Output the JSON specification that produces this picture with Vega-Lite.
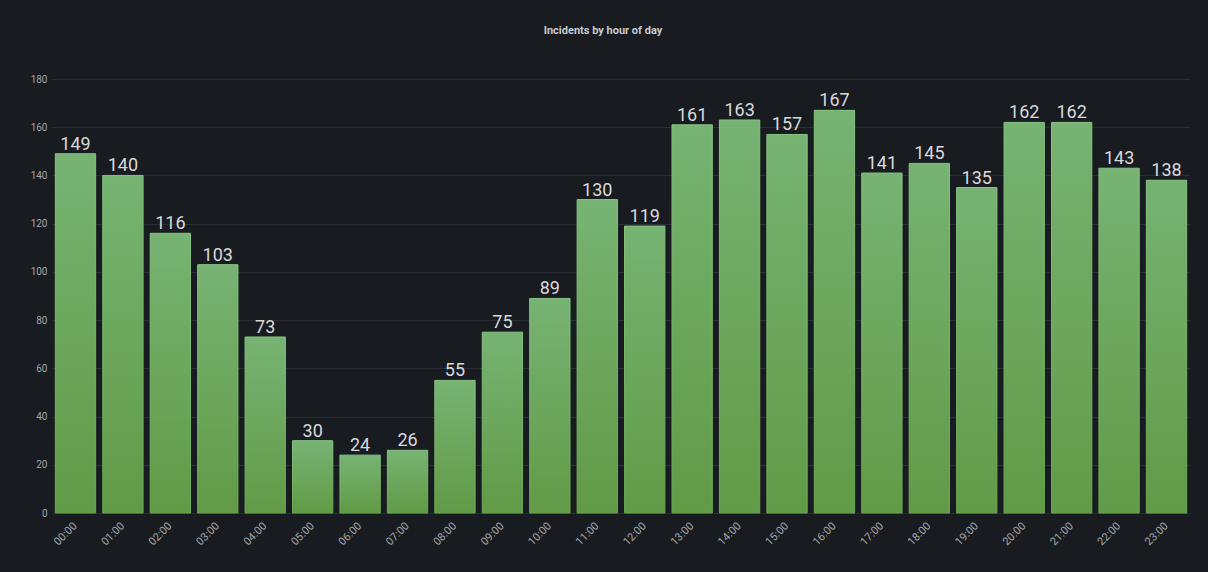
{
  "$schema": "https://vega.github.io/schema/vega-lite/v6.json",
  "autosize": "none",
  "width": 1138,
  "height": 434,
  "padding": {"left": 52, "top": 79, "right": 18, "bottom": 59},
  "background": "#181b1f",
  "config": {
    "view": {"stroke": null},
    "font": "Roboto"
  },
  "title": {
    "text": "Incidents by hour of day",
    "font": "Roboto",
    "fontSize": 11,
    "fontWeight": "bold",
    "color": "#c9cacf",
    "anchor": "middle",
    "dx": -18,
    "offset": 38
  },
  "data": {
    "values": [
      {"hour": "00:00", "count": 149},
      {"hour": "01:00", "count": 140},
      {"hour": "02:00", "count": 116},
      {"hour": "03:00", "count": 103},
      {"hour": "04:00", "count": 73},
      {"hour": "05:00", "count": 30},
      {"hour": "06:00", "count": 24},
      {"hour": "07:00", "count": 26},
      {"hour": "08:00", "count": 55},
      {"hour": "09:00", "count": 75},
      {"hour": "10:00", "count": 89},
      {"hour": "11:00", "count": 130},
      {"hour": "12:00", "count": 119},
      {"hour": "13:00", "count": 161},
      {"hour": "14:00", "count": 163},
      {"hour": "15:00", "count": 157},
      {"hour": "16:00", "count": 167},
      {"hour": "17:00", "count": 141},
      {"hour": "18:00", "count": 145},
      {"hour": "19:00", "count": 135},
      {"hour": "20:00", "count": 162},
      {"hour": "21:00", "count": 162},
      {"hour": "22:00", "count": 143},
      {"hour": "23:00", "count": 138}
    ]
  },
  "encoding": {
    "x": {
      "field": "hour",
      "type": "ordinal",
      "sort": null,
      "scale": {"paddingInner": 0.15, "paddingOuter": 0.07},
      "axis": {
        "title": null,
        "labelAngle": -45,
        "labelAlign": "right",
        "labelBaseline": "middle",
        "labelPadding": 11,
        "labelFontSize": 11,
        "labelColor": "#a5a6ab",
        "labelFont": "Roboto",
        "ticks": false,
        "domain": false,
        "grid": false
      }
    },
    "y": {
      "field": "count",
      "type": "quantitative",
      "scale": {"domain": [0, 180], "nice": false},
      "axis": {
        "title": null,
        "values": [0, 20, 40, 60, 80, 100, 120, 140, 160, 180],
        "labelFontSize": 10,
        "labelColor": "#a5a6ab",
        "labelFont": "Roboto",
        "labelPadding": 5,
        "ticks": false,
        "domain": false,
        "grid": true,
        "gridColor": "#2a2d33",
        "gridWidth": 1
      }
    }
  },
  "layer": [
    {
      "mark": {
        "type": "bar",
        "strokeWidth": 1,
        "color": {
          "gradient": "linear",
          "x1": 0, "y1": 0, "x2": 0, "y2": 1,
          "stops": [
            {"offset": 0, "color": "#77b373"},
            {"offset": 1, "color": "#619b47"}
          ]
        },
        "stroke": {
          "gradient": "linear",
          "x1": 0, "y1": 0, "x2": 0, "y2": 1,
          "stops": [
            {"offset": 0, "color": "#85c481"},
            {"offset": 1, "color": "#6aa750"}
          ]
        }
      }
    },
    {
      "mark": {
        "type": "text",
        "baseline": "alphabetic",
        "dy": -4,
        "fontSize": 18,
        "font": "Roboto",
        "color": "#d8d9dc"
      },
      "encoding": {
        "text": {"field": "count", "type": "quantitative"}
      }
    }
  ]
}
